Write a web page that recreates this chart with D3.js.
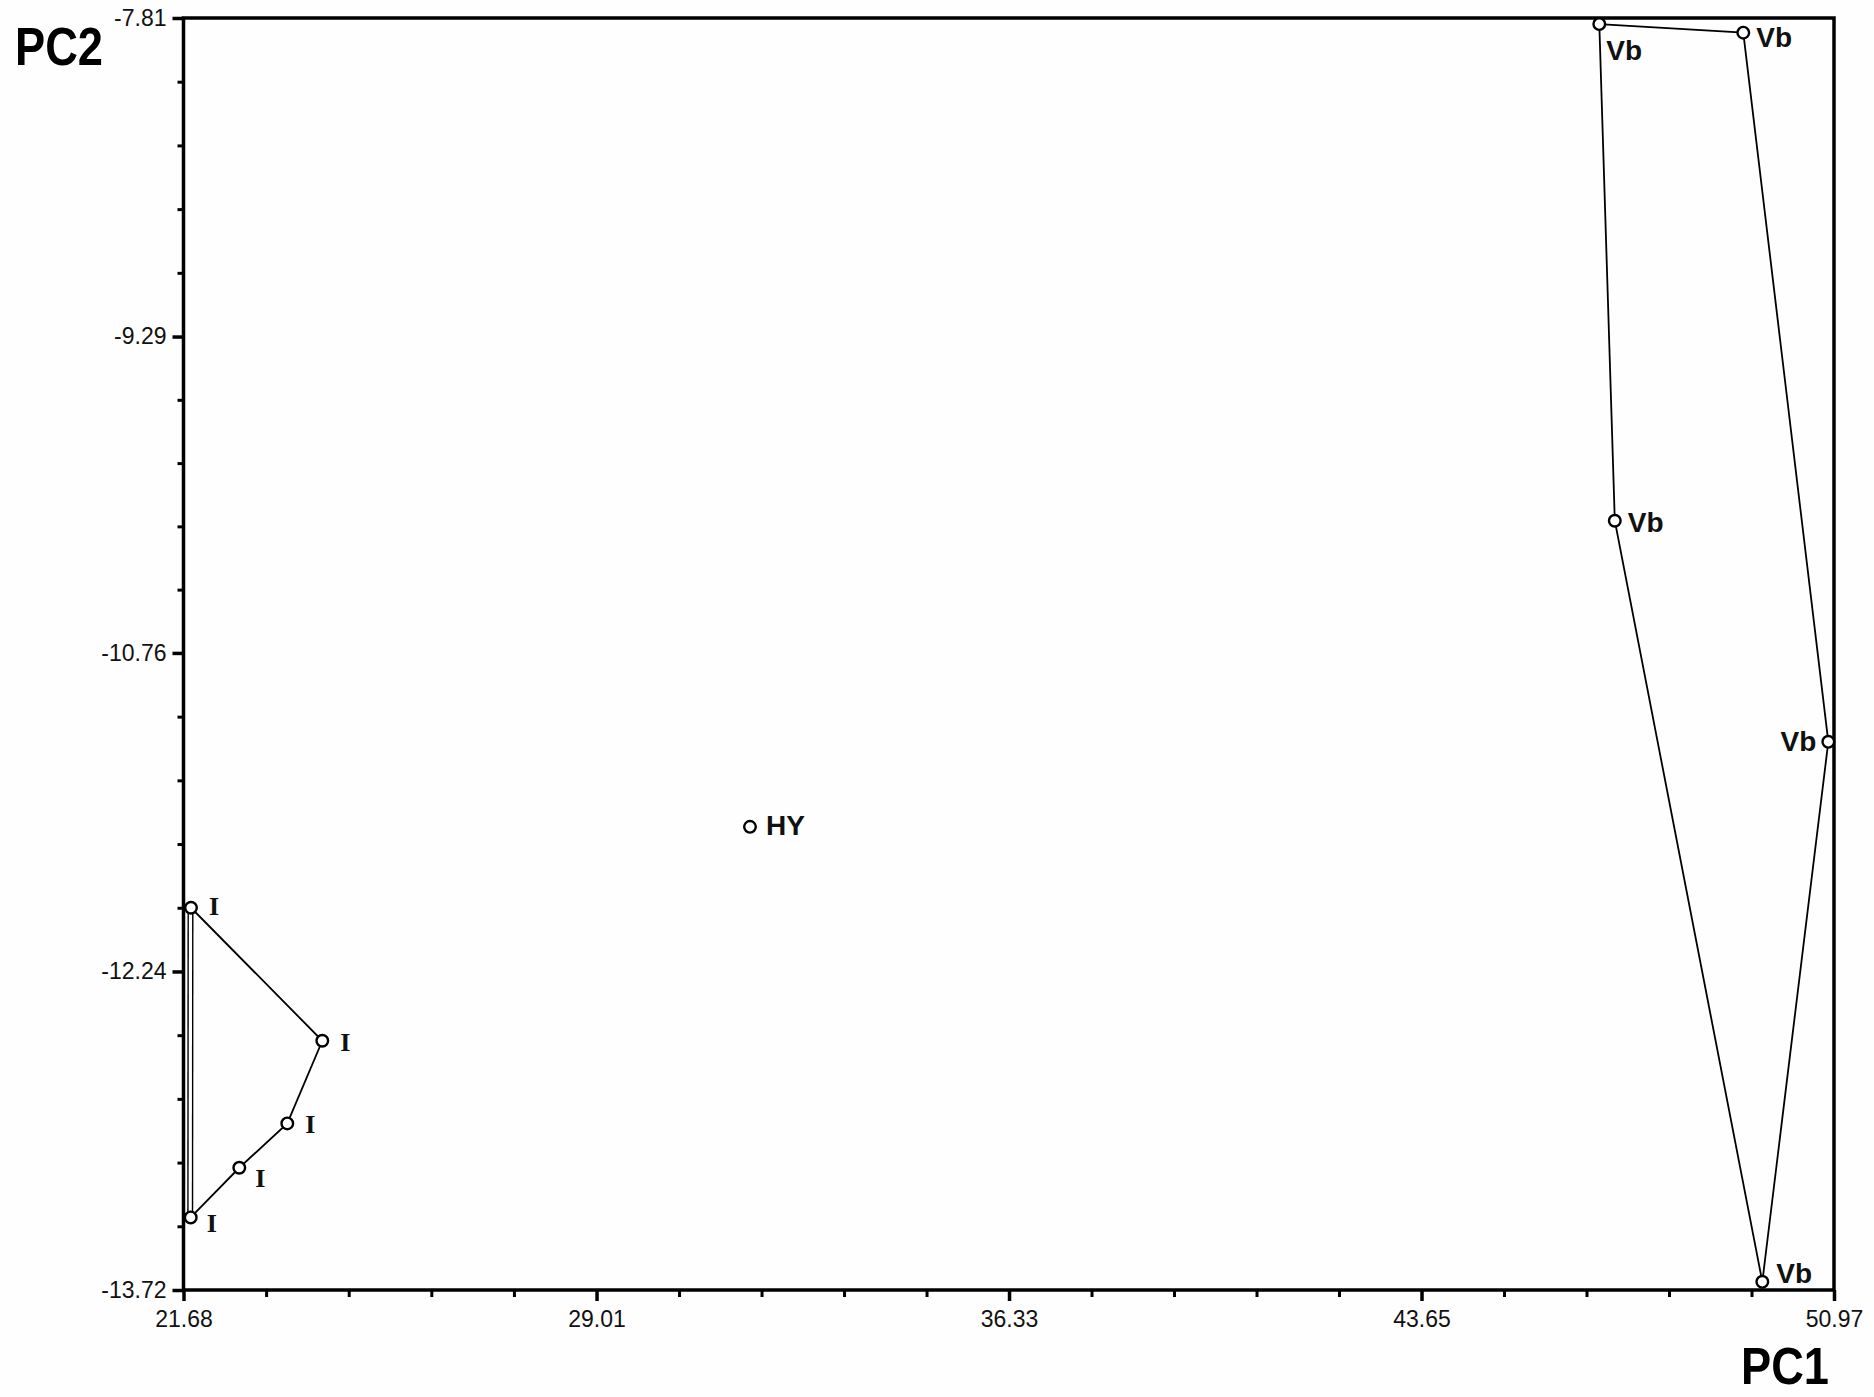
<!DOCTYPE html>
<html>
<head>
<meta charset="utf-8">
<script src="https://cdn.jsdelivr.net/npm/d3@7/dist/d3.min.js"></script>
<style>
  html, body { margin: 0; padding: 0; background: #fefefe; }
  svg { display: block; }
</style>
</head>
<body>
<svg id="chart" width="1874" height="1397"></svg>
<script>
// ---------- DATA ----------
const xTickValues = [21.68, 29.01, 36.33, 43.65, 50.97];
const xTickLabels = ["21.68", "29.01", "36.33", "43.65", "50.97"];
const yTickValues = [-7.81, -9.29, -10.76, -12.24, -13.72];
const yTickLabels = ["-7.81", "-9.29", "-10.76", "-12.24", "-13.72"];

// Group I (hull order)
const groupI_x = [21.813, 24.143, 23.522, 22.670, 21.808];
const groupI_y = [-11.944, -12.562, -12.946, -13.152, -13.383];
const groupI_label = "I";

// Group Vb (hull order)
const groupVb_x = [46.805, 49.360, 50.869, 49.698, 47.080];
const groupVb_y = [-7.838, -7.878, -11.173, -13.682, -10.146];
const groupVb_label = "Vb";

// HY single point
const hy_x = [31.733];
const hy_y = [-11.568];
const hy_label = "HY";

// ---------- LAYOUT ----------
const labelOffI = [[18, 7], [18, 10], [18, 10], [16, 19], [16, 15]];
const labelOffVb = [[7, 36, "start"], [13, 14, "start"], [-12, 9, "end"], [14, 1, "start"], [13, 11, "start"]];
const labelOffHY = [[16, 8, "start"]];

const svg = d3.select("#chart");
const L = 183.5, R = 1834, T = 18, B = 1290;

const x = d3.scaleLinear().domain([xTickValues[0], xTickValues[xTickValues.length - 1]]).range([L, R]);
const y = d3.scaleLinear().domain([yTickValues[0], yTickValues[yTickValues.length - 1]]).range([T, B]);

function minors(vals, n) {
  const out = [];
  for (let i = 0; i < vals.length - 1; i++) {
    for (let k = 1; k < n; k++) out.push(vals[i] + (vals[i + 1] - vals[i]) * k / n);
  }
  return out;
}

const sansFont = "'Liberation Sans', Arial, Helvetica, sans-serif";
const serifFont = "'Liberation Serif', 'Times New Roman', serif";

// frame
svg.append("rect")
  .attr("x", L).attr("y", T).attr("width", R - L).attr("height", B - T)
  .attr("fill", "none").attr("stroke", "#000").attr("stroke-width", 3.5);

// X axis minor
svg.append("g").attr("transform", `translate(0,${B})`)
  .call(d3.axisBottom(x).tickValues(minors(xTickValues, 5)).tickSize(7).tickFormat(""))
  .call(g => { g.select(".domain").remove(); g.selectAll("line").attr("stroke-width", 3); });
// X axis major
svg.append("g").attr("transform", `translate(0,${B})`)
  .call(d3.axisBottom(x).tickValues(xTickValues).tickSize(11).tickPadding(10)
    .tickFormat((d, i) => xTickLabels[i]))
  .call(g => {
    g.select(".domain").remove();
    g.selectAll("line").attr("stroke-width", 3.5);
    g.selectAll("text").attr("font-family", sansFont).attr("font-size", 23).attr("fill", "#111");
  });

// Y axis minor
svg.append("g").attr("transform", `translate(${L},0)`)
  .call(d3.axisLeft(y).tickValues(minors(yTickValues, 5)).tickSize(6).tickFormat(""))
  .call(g => { g.select(".domain").remove(); g.selectAll("line").attr("stroke-width", 3); });
// Y axis major
svg.append("g").attr("transform", `translate(${L},0)`)
  .call(d3.axisLeft(y).tickValues(yTickValues).tickSize(11).tickPadding(6)
    .tickFormat((d, i) => yTickLabels[i]))
  .call(g => {
    g.select(".domain").remove();
    g.selectAll("line").attr("stroke-width", 3.5);
    g.selectAll("text").attr("font-family", sansFont).attr("font-size", 23).attr("fill", "#111");
  });

// ---------- HULLS ----------
const ptsI = groupI_x.map((v, i) => [x(v), y(groupI_y[i])]);
const ptsVb = groupVb_x.map((v, i) => [x(v), y(groupVb_y[i])]);

// closing segment of I is drawn as a double line
svg.append("line")
  .attr("x1", ptsI[ptsI.length - 1][0] - 0.5).attr("y1", ptsI[ptsI.length - 1][1])
  .attr("x2", ptsI[0][0] - 0.5).attr("y2", ptsI[0][1])
  .attr("stroke", "#000").attr("stroke-width", 6);
svg.append("line")
  .attr("x1", ptsI[ptsI.length - 1][0] - 0.5).attr("y1", ptsI[ptsI.length - 1][1])
  .attr("x2", ptsI[0][0] - 0.5).attr("y2", ptsI[0][1])
  .attr("stroke", "#fff").attr("stroke-width", 3.2);

svg.append("path")
  .attr("d", d3.line()(ptsI))
  .attr("fill", "none").attr("stroke", "#000").attr("stroke-width", 1.8);

svg.append("path")
  .attr("d", d3.line()(ptsVb.concat([ptsVb[0]])))
  .attr("fill", "none").attr("stroke", "#000").attr("stroke-width", 1.8);

// ---------- POINTS ----------
function drawPoints(xs, ys) {
  svg.append("g").selectAll("circle")
    .data(xs.map((v, i) => [v, ys[i]]))
    .join("circle")
    .attr("cx", d => x(d[0])).attr("cy", d => y(d[1]))
    .attr("r", 5.8)
    .attr("fill", "#fff").attr("stroke", "#000").attr("stroke-width", 2.4);
}
drawPoints(groupI_x, groupI_y);
drawPoints(groupVb_x, groupVb_y);
drawPoints(hy_x, hy_y);

// ---------- LABELS ----------
svg.append("g").selectAll("text")
  .data(groupI_x.map((v, i) => [v, groupI_y[i], labelOffI[i]]))
  .join("text")
  .attr("x", d => x(d[0]) + d[2][0]).attr("y", d => y(d[1]) + d[2][1])
  .attr("font-family", serifFont).attr("font-weight", "bold").attr("font-size", 26)
  .attr("fill", "#111")
  .text(groupI_label);

svg.append("g").selectAll("text")
  .data(groupVb_x.map((v, i) => [v, groupVb_y[i], labelOffVb[i]]))
  .join("text")
  .attr("x", d => x(d[0]) + d[2][0]).attr("y", d => y(d[1]) + d[2][1])
  .attr("text-anchor", d => d[2][2])
  .attr("font-family", sansFont).attr("font-weight", "bold").attr("font-size", 28)
  .attr("fill", "#111")
  .text(groupVb_label);

svg.append("g").selectAll("text")
  .data(hy_x.map((v, i) => [v, hy_y[i], labelOffHY[i]]))
  .join("text")
  .attr("x", d => x(d[0]) + d[2][0]).attr("y", d => y(d[1]) + d[2][1])
  .attr("font-family", sansFont).attr("font-weight", "bold").attr("font-size", 28)
  .attr("fill", "#111")
  .text(hy_label);

// ---------- AXIS TITLES ----------
svg.append("text")
  .attr("x", 15).attr("y", 65)
  .attr("font-family", sansFont).attr("font-weight", "bold").attr("font-size", 54)
  .attr("textLength", 88).attr("lengthAdjust", "spacingAndGlyphs")
  .attr("fill", "#000")
  .text("PC2");

svg.append("text")
  .attr("x", 1741).attr("y", 1384)
  .attr("font-family", sansFont).attr("font-weight", "bold").attr("font-size", 52)
  .attr("textLength", 88).attr("lengthAdjust", "spacingAndGlyphs")
  .attr("fill", "#000")
  .text("PC1");
</script>
</body>
</html>
